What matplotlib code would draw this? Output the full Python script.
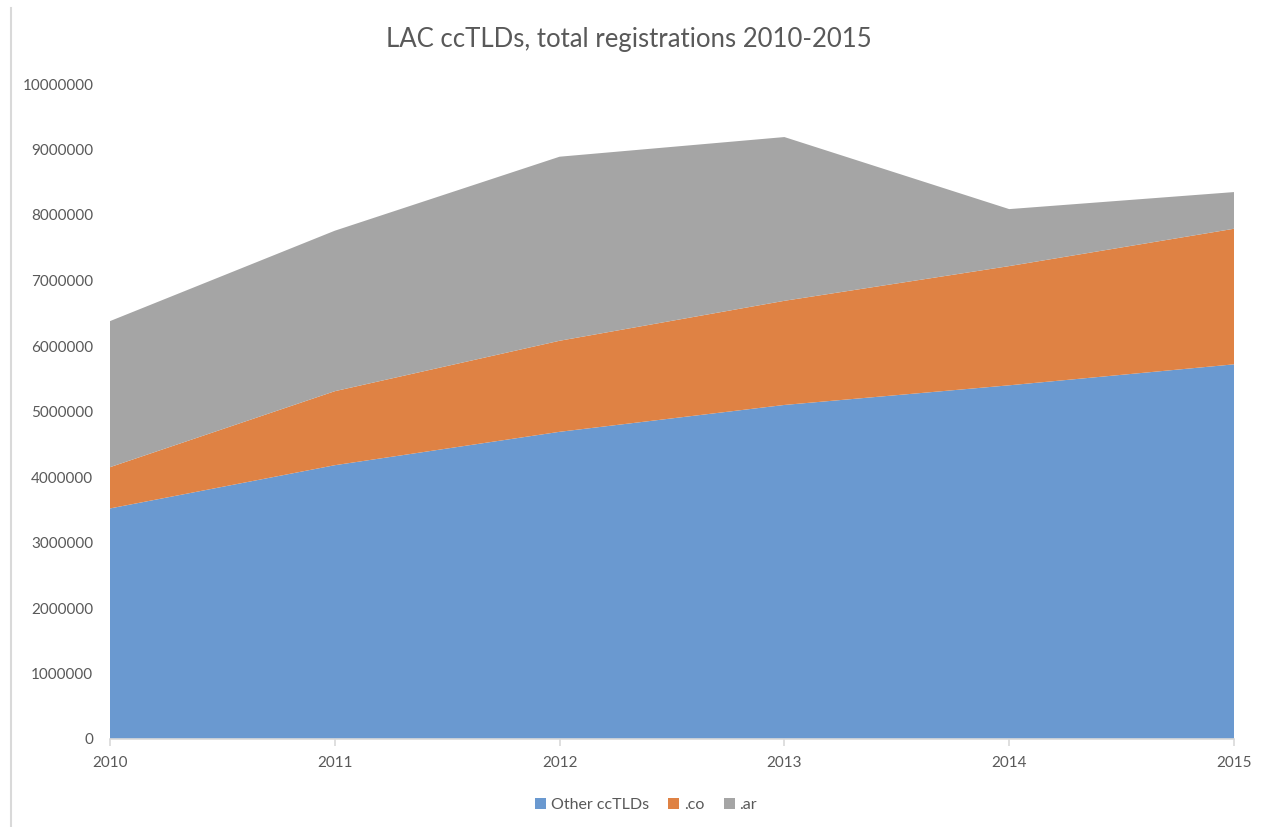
import matplotlib
matplotlib.use("Agg")
import matplotlib.pyplot as plt
from matplotlib.patches import Patch
from matplotlib.lines import Line2D

years = [2010, 2011, 2012, 2013, 2014, 2015]
other_cctlds = [3520000, 4180000, 4690000, 5100000, 5400000, 5720000]
co = [630000, 1130000, 1390000, 1590000, 1820000, 2070000]
ar = [2230000, 2450000, 2810000, 2500000, 870000, 560000]
series_names = ["Other ccTLDs", ".co", ".ar"]
colors = ["#6a99d0", "#df8244", "#a5a5a5"]
yticks = list(range(0, 10000001, 1000000))

plt.rcParams['font.family'] = ['Lato', 'DejaVu Sans']
txt = "#595959"

fig = plt.figure(figsize=(12.64, 8.27), dpi=100)
ax = fig.add_axes([110/1264, 1-739/827, (1234-110)/1264, (739-84)/827])

ax.stackplot(years, other_cctlds, co, ar, colors=colors, labels=series_names, linewidth=0)

ax.set_xlim(years[0], years[-1])
ax.set_ylim(0, 10000000)
ax.set_yticks(yticks)
ax.set_yticklabels([str(v) for v in yticks])
ax.set_xticks(years)
ax.set_xticklabels([str(y) for y in years])
for s in ["top", "right", "left"]:
    ax.spines[s].set_visible(False)
ax.spines["bottom"].set_color("#d9d9d9")
ax.spines["bottom"].set_linewidth(1.2)
ax.tick_params(axis="y", length=0, pad=12, labelsize=11, labelcolor=txt)
ax.tick_params(axis="x", length=5, color="#d9d9d9", width=1.2, pad=7, labelsize=11, labelcolor=txt)

fig.text(629/1264, 1-40/827, "LAC ccTLDs, total registrations 2010-2015",
         ha="center", va="center", fontsize=18.5, color=txt)

handles = [Patch(facecolor=c, edgecolor="none") for c in colors]
leg = fig.legend(handles, series_names, loc="center", bbox_to_anchor=(646/1264, 1-805/827),
                 ncol=3, frameon=False, fontsize=11.5, handlelength=0.7, handleheight=0.7,
                 handletextpad=0.3, columnspacing=1.2)
for t in leg.get_texts():
    t.set_color(txt)

fig.add_artist(Line2D([11/1264, 11/1264], [0, 1-8/827], transform=fig.transFigure,
                      color="#d9d9d9", linewidth=1.5))

fig.savefig("out.png", dpi=100)
